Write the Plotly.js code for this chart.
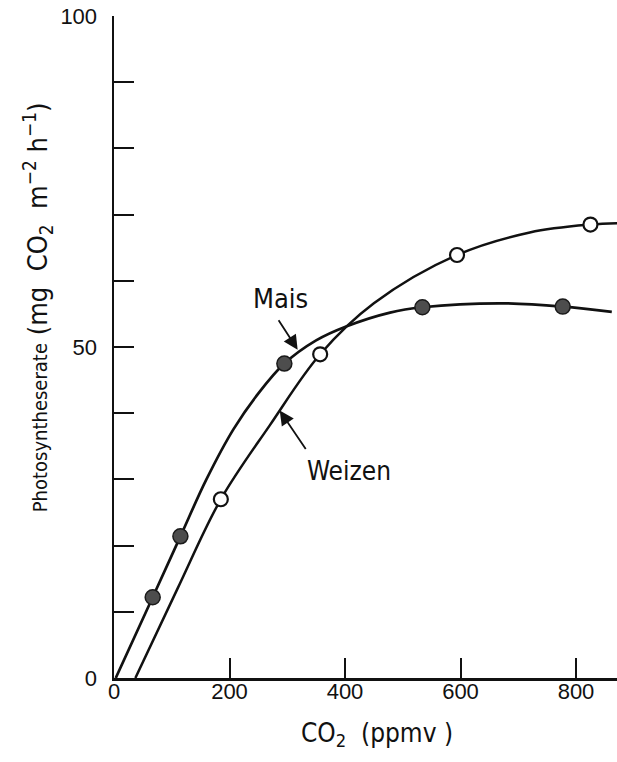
<!DOCTYPE html>
<html>
<head>
<meta charset="utf-8">
<script src="https://cdn.plot.ly/plotly-3.0.1.min.js"></script>
<style>
  html, body { margin: 0; padding: 0; background: #ffffff; }
  #chart { width: 617px; height: 762px; }
</style>
</head>
<body>
<div id="chart"></div>
<script>
// Measured photosynthesis rates (mg CO2 m^-2 h^-1) against CO2 concentration (ppmv)
const maisPointsX = [67, 115, 295, 534, 777];
const maisPointsY = [12.2, 21.4, 47.5, 56.0, 56.1];
const weizenPointsX = [185, 357, 594, 825];
const weizenPointsY = [27.0, 48.9, 63.9, 68.5];

// Hand-fitted response curves traced through the measurements
const maisCurveX = [3, 67, 115, 160, 207, 250, 295, 350, 402, 478, 534, 668, 777, 862];
const maisCurveY = [0, 12.2, 21.4, 30.0, 37.6, 43.0, 47.5, 51.0, 53.1, 55.2, 56.0, 56.6, 56.1, 55.3];
const weizenCurveX = [37, 110, 185, 270, 357, 450, 594, 720, 825, 871];
const weizenCurveY = [0, 13.5, 27.0, 38.2, 48.9, 56.6, 63.9, 67.3, 68.5, 68.7];

// Axis ticks: labelled marks at 0, 50, 100 and unlabelled marks every 10 units
const yTickVals = [0, 50, 100];
const yTickText = ['0', '50', '100'];
const yMinorTickVals = [10, 20, 30, 40, 60, 70, 80, 90];
const xTickVals = [0, 200, 400, 600, 800];
const xTickText = ['0', '200', '400', '600', '800'];

const NARROW = '"Liberation Sans Narrow", "DejaVu Sans Condensed", sans-serif';
const PLAIN = '"Liberation Sans", Arial, sans-serif';

const traces = [
  {
    x: maisCurveX, y: maisCurveY, type: 'scatter', mode: 'lines',
    line: { color: '#111111', width: 2.7, shape: 'spline', smoothing: 1 },
    hoverinfo: 'skip', name: 'Mais'
  },
  {
    x: weizenCurveX, y: weizenCurveY, type: 'scatter', mode: 'lines',
    line: { color: '#111111', width: 2.5, shape: 'spline', smoothing: 1 },
    hoverinfo: 'skip', name: 'Weizen'
  },
  {
    x: maisPointsX, y: maisPointsY, type: 'scatter', mode: 'markers',
    marker: { size: 15, color: '#4d4d4d', line: { color: '#1a1a1a', width: 1.5 } },
    name: 'Mais'
  },
  {
    x: weizenPointsX, y: weizenPointsY, type: 'scatter', mode: 'markers',
    marker: { size: 14, color: '#ffffff', line: { color: '#111111', width: 2.2 } },
    name: 'Weizen'
  }
];

const tickStyle = { ticks: 'inside', ticklen: 20, tickwidth: 2, tickcolor: '#111111' };

const layout = {
  width: 617,
  height: 762,
  margin: { l: 114, r: 0, t: 16, b: 84 },
  paper_bgcolor: '#ffffff',
  plot_bgcolor: '#ffffff',
  showlegend: false,
  font: { family: PLAIN, color: '#111111' },
  xaxis: Object.assign({
    range: [0, 871],
    showgrid: false, zeroline: false,
    showline: true, linecolor: '#111111', linewidth: 2.5,
    tickmode: 'array', tickvals: xTickVals, ticktext: xTickText,
    tickfont: { family: PLAIN, size: 22, color: '#111111' },
    ticklabelstandoff: -8
  }, tickStyle),
  yaxis: Object.assign({
    range: [0, 100],
    showgrid: false, zeroline: false,
    showline: true, linecolor: '#111111', linewidth: 2.5,
    tickmode: 'array', tickvals: yTickVals, ticktext: yTickText,
    tickfont: { family: PLAIN, size: 22, color: '#111111' },
    ticklabelstandoff: 10,
    minor: Object.assign({ tickmode: 'array', tickvals: yMinorTickVals, showgrid: false }, tickStyle)
  }, tickStyle),
  annotations: [
    // y axis title, placed beside the upper part of the axis
    {
      xref: 'paper', x: 0, xshift: -77, xanchor: 'center',
      yref: 'y', y: 56, yanchor: 'middle',
      textangle: -90, showarrow: false,
      text: 'Photosyntheserate<span style="font-size:27px">\u00a0(mg\u00a0\u00a0CO<sub>2</sub>\u00a0\u00a0m<sup>\u22122</sup>\u00a0h<sup>\u22121</sup>)</span>',
      font: { family: NARROW, size: 20, color: '#111111' }
    },
    // x axis title
    {
      xref: 'x', x: 455, xanchor: 'center',
      yref: 'paper', y: 0, yanchor: 'top', yshift: -38,
      showarrow: false,
      text: 'CO<sub>2</sub>\u00a0\u00a0(ppmv\u00a0)',
      font: { family: NARROW, size: 26, color: '#111111' }
    },
    // curve labels
    {
      xref: 'x', yref: 'y', x: 289, y: 57.3, showarrow: false,
      text: 'Mais', font: { family: NARROW, size: 27, color: '#111111' }
    },
    {
      xref: 'x', yref: 'y', x: 407, y: 31.3, showarrow: false,
      text: 'Weizen', font: { family: NARROW, size: 26, color: '#111111' }
    },
    // pointer arrows from labels to curves
    {
      xref: 'x', yref: 'y', x: 318, y: 49.6, text: '',
      showarrow: true, ax: -20, ay: -31,
      arrowhead: 2, arrowsize: 1.6, arrowwidth: 1.8, arrowcolor: '#111111', standoff: 0
    },
    {
      xref: 'x', yref: 'y', x: 287, y: 40.4, text: '',
      showarrow: true, ax: 27, ay: 40,
      arrowhead: 2, arrowsize: 1.6, arrowwidth: 1.8, arrowcolor: '#111111', standoff: 0
    }
  ]
};

Plotly.newPlot('chart', traces, layout, { staticPlot: true, displayModeBar: false });
</script>
</body>
</html>
